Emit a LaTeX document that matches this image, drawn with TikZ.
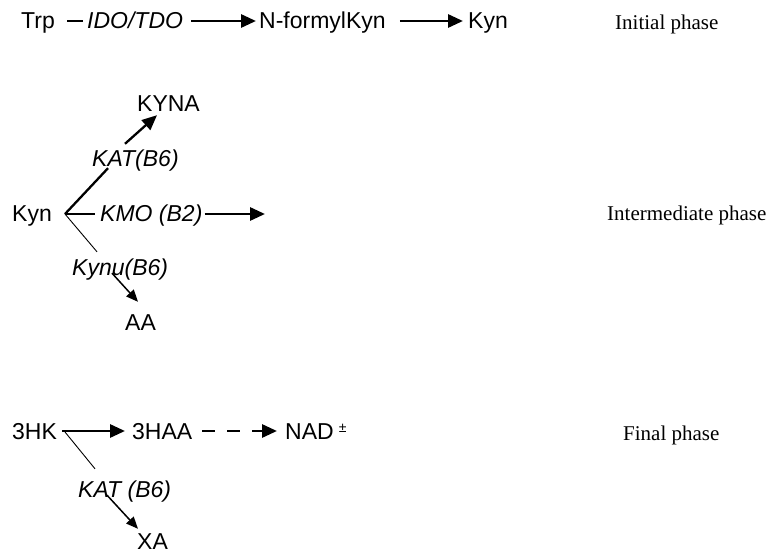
\documentclass[tikz,border=0pt]{standalone}
\usepackage{fontspec}
\setmainfont{Liberation Serif}
\setsansfont{Liberation Sans}
\usetikzlibrary{arrows.meta,calc}

\begin{document}
\begin{tikzpicture}[x=1pt, y=-1pt,
    mol/.style={anchor=base west, inner sep=0pt, text height=16pt, text depth=0pt,
                font=\sffamily\fontsize{23}{27}\selectfont},
    enz/.style={mol, font=\sffamily\itshape\fontsize{23}{27}\selectfont},
    phase/.style={anchor=base west, inner sep=0pt, font=\fontsize{21}{25}\selectfont},
    arrow/.style={-{Triangle[length=15pt,width=13pt]}, line width=2.9pt},
    thinarrow/.style={-{Triangle[length=12pt,width=10pt]}, line width=1.5pt},
    link/.style={line width=2.9pt},
    thinlink/.style={line width=0.9pt}
]
\useasboundingbox (0,0) rectangle (773,553);

\node[mol] (trp) at (21,29) {Trp};
\node[enz] (ido) at (87,29) {IDO/TDO};
\node[mol] (nfk) at (259,29) {N-formylKyn};
\node[mol] (kyn1) at (468,29) {Kyn};
\node[phase] (ph1) at (615,30) {Initial phase};

\draw[link, shorten <=12pt, shorten >=4pt] (trp.east) -- (ido.west);
\draw[arrow, shorten <=8pt, shorten >=3pt] (ido.east) -- (nfk.west);
\draw[arrow, shorten <=14pt, shorten >=5pt] (nfk.east) -- (kyn1.west);

\node[mol] (kyn2) at (12,222) {Kyn};
\coordinate (kynj) at (65,214);
\node[mol] (kyna) at (137,112) {KYNA};
\node[enz] (kat1) at (92,167) {KAT(B6)};
\node[enz] (kmo) at (100,222) {KMO (B2)};
\coordinate (kmoend) at (265,214);
\node[enz] (kynu) at (72,275) {Kynu(B6)};
\node[mol] (aa) at (125,330) {AA};
\node[phase] (ph2) at (607,221) {Intermediate phase};

\draw[line width=2.3pt] (kynj) -- ($(kat1.south west)+(16,1)$);
\draw[arrow, line width=2.3pt] ($(kat1.north west)+(33,-7)$) -- ($(kyna.south west)+(20,3)$);
\draw[link, shorten >=5pt] (kynj) -- (kmo.west);
\draw[arrow, shorten <=2pt] (kmo.east) -- (kmoend);
\draw[thinlink] (kynj) -- ($(kynu.north west)+(25,-7)$);
\draw[thinarrow] ($(kynu.south west)+(40,-2)$) -- ($(aa.north west)+(13,-12)$);

\node[mol] (hk) at (12,439) {3HK};
\coordinate (hkj) at (65,432);
\node[mol] (haa) at (132,439) {3HAA};
\node[mol] (nad) at (285,439) {NAD\hspace{5pt}\raisebox{7pt}{\fontsize{14}{14}\selectfont ±}};
\node[enz] (kat2) at (78,497) {KAT (B6)};
\node[mol] (xa) at (137,549) {XA};
\node[phase] (ph3) at (623,440) {Final phase};

\draw[arrow, shorten <=5pt, shorten >=7pt] (hk.east) -- (haa.west);
\draw[arrow, dash pattern=on 13pt off 12pt, shorten <=10pt, shorten >=8pt] (haa.east) -- (nad.west);
\draw[thinlink] (hkj) -- ($(kat2.north west)+(17,-12)$);
\draw[thinarrow] ($(kat2.south west)+(29,-2)$) -- ($(xa.north west)+(1,-4)$);

\end{tikzpicture}
\end{document}
